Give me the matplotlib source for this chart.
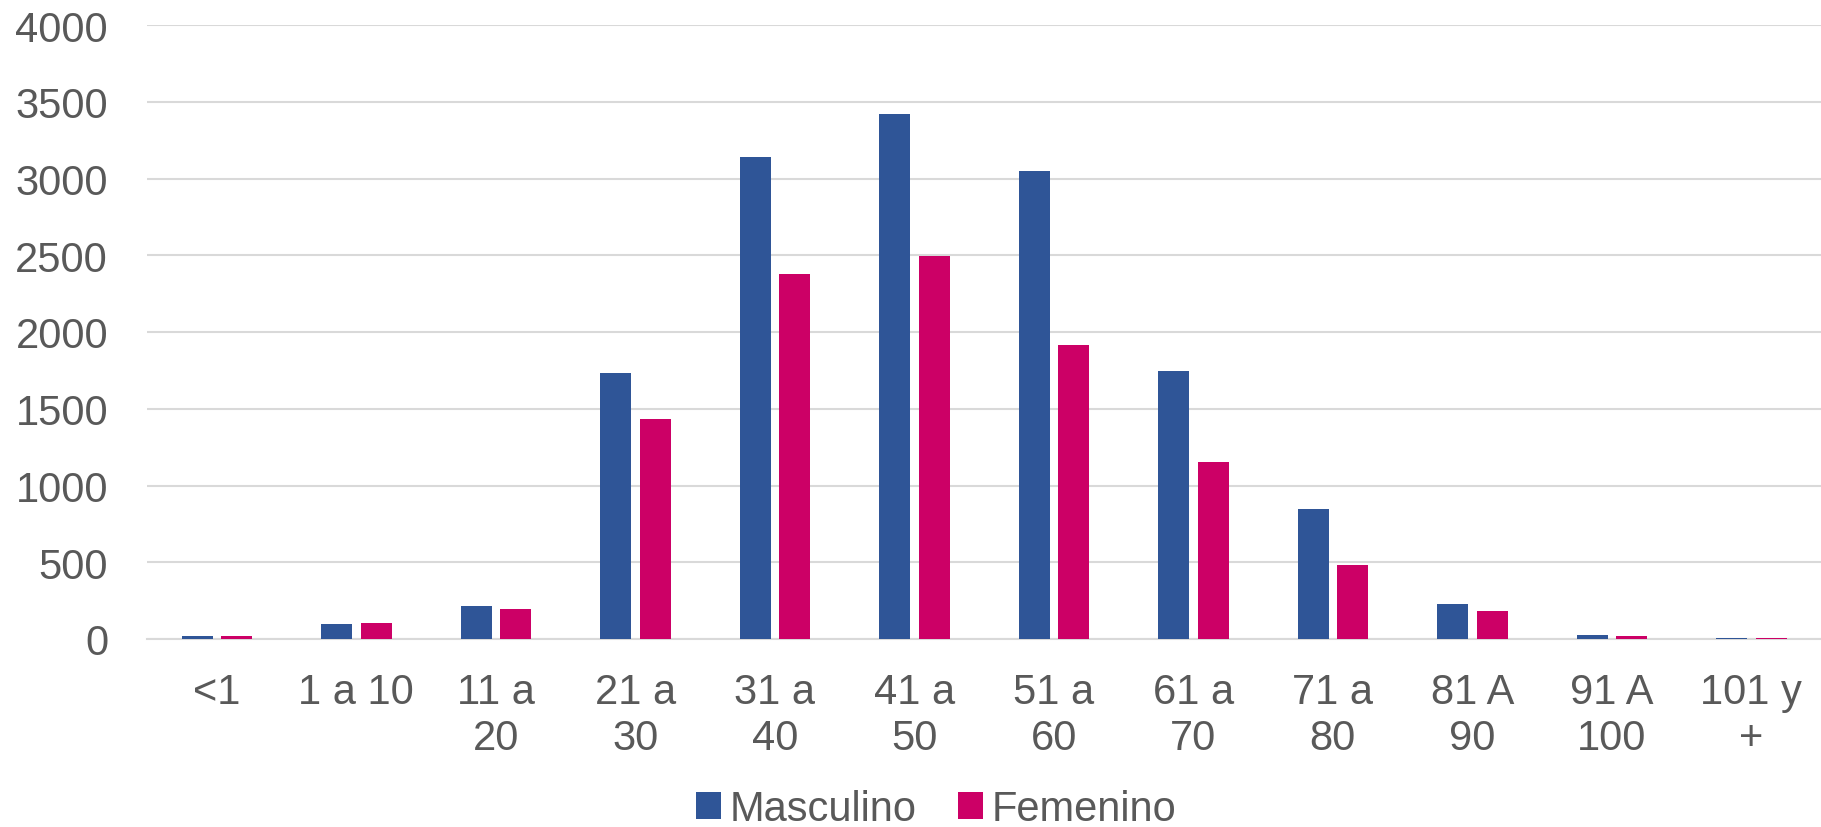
import matplotlib
matplotlib.use("Agg")
import matplotlib.pyplot as plt
import numpy as np

categories = ["<1", "1 a 10", "11 a\n20", "21 a\n30", "31 a\n40", "41 a\n50",
              "51 a\n60", "61 a\n70", "71 a\n80", "81 A\n90", "91 A\n100", "101 y\n+"]
masculino = [20, 96, 214, 1735, 3137, 3418, 3046, 1744, 849, 230, 27, 4]
femenino = [17, 102, 196, 1435, 2376, 2498, 1918, 1155, 480, 183, 18, 4]

blue = "#2F5597"
pink = "#CC0066"
gray_text = "#595959"

plt.rcParams['font.family'] = ['Liberation Sans', 'DejaVu Sans']

fig = plt.figure(figsize=(18.21, 8.28), dpi=100)
ax = fig.add_axes([147 / 1821, 1 - 640 / 828, 1 - 147 / 1821, (640 - 26) / 828])

x = np.arange(len(categories))
w = 31 / 139.5
off = (31 + 8.5) / 2 / 139.5
ax.bar(x - off, masculino, w, color=blue, label="Masculino", zorder=3)
ax.bar(x + off, femenino, w, color=pink, label="Femenino", zorder=3)

ax.set_xlim(-0.5, len(categories) - 0.5)
ax.set_ylim(0, 4000)
ax.set_yticks(range(0, 4001, 500))
ax.grid(axis="y", color="#D9D9D9", linewidth=1.5, zorder=0)
for s in ["top", "right", "left"]:
    ax.spines[s].set_visible(False)
ax.spines["bottom"].set_color("#D9D9D9")
ax.spines["bottom"].set_linewidth(1.5)

ax.set_xticks(x)
ax.set_xticklabels(categories, linespacing=1.17)
ax.tick_params(axis="both", length=0, labelsize=30, labelcolor=gray_text)
ax.tick_params(axis="y", pad=28)
ax.tick_params(axis="x", pad=24)

leg = fig.legend(loc="center", bbox_to_anchor=(936 / 1821, 1 - 810 / 828), ncol=2,
                 frameon=False, fontsize=30, handlelength=0.6, handleheight=0.6,
                 handletextpad=0.2, columnspacing=1.0)
for t in leg.get_texts():
    t.set_color(gray_text)

fig.savefig("out.png", dpi=100)
